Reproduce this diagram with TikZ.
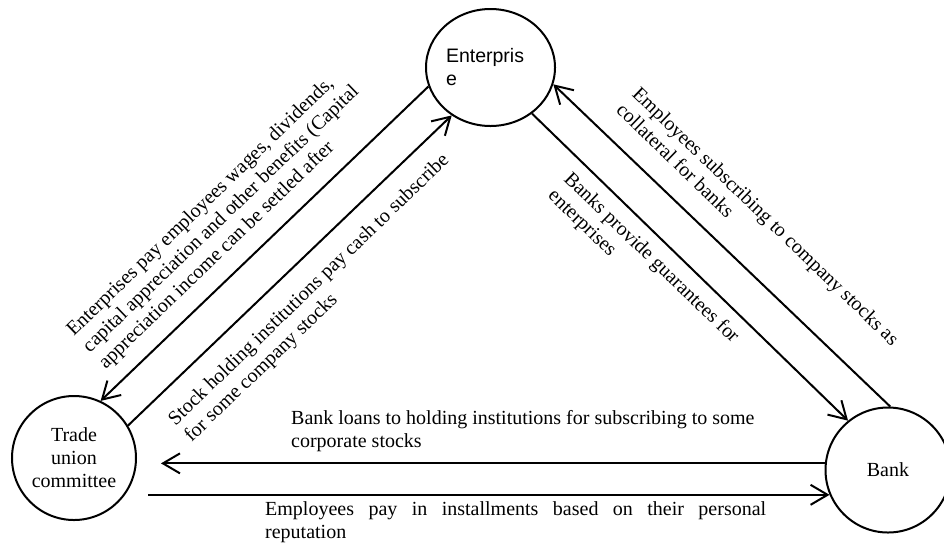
\documentclass[tikz,border=0pt]{standalone}
\usepackage{fontspec}
\setmainfont{Liberation Serif}
\newfontfamily\arialfont{Liberation Sans}
\usetikzlibrary{shapes.geometric, arrows.meta}
\tikzstyle{party} = [circle, draw=black, line width=2pt, minimum size=124pt, inner sep=0pt, text centered, font=\fontsize{20}{23}\selectfont]
\tikzstyle{note} = [inner sep=0pt, align=left, anchor=north west, font=\fontsize{20}{23}\selectfont]
\tikzstyle{arrow} = [line width=2pt, -{Straight Barb[length=17pt,width=20pt]}]

\begin{document}
\begin{tikzpicture}[x=1pt, y=-1pt]
\useasboundingbox (0,0) rectangle (944,542);
\fill[white] (0,0) rectangle (944,542);

\node (ent) [party, ellipse, minimum width=129pt, minimum height=117pt, text width=89pt, align=left, font=\arialfont\fontsize{19.5}{23}\selectfont] at (490.5,67.5) {Enterpris\\e};
\node (tu) [party, align=center] at (74,458) {Trade\\union\\committee};
\node (bank) [party, minimum size=125pt] at (888,470) {Bank};

\draw [arrow] (ent.197) -- (tu.65);
\draw [arrow] (tu.31) -- (ent.231);
\draw [arrow] (ent.312) -- (bank.129);
\draw [arrow] (bank.88) -- (ent.345);
\draw [arrow, shorten >=24pt] (bank.174) -- (bank.174 -| tu.east);
\draw [arrow, shorten <=11pt] (tu.east |- bank.203) -- (bank.203);

\node (wages) [note, rotate=44] at (64,326.6) {Enterprises pay employees wages, dividends,\\capital appreciation and other benefits (Capital\\appreciation income can be settled after};
\node (cash) [note, rotate=44] at (165.7,416.1) {Stock holding institutions pay cash to subscribe\\for some company stocks};
\node (collat) [note, rotate=-44] at (641,85) {Employees subscribing to company stocks as\\collateral for banks};
\node (guar) [note, rotate=-44] at (573,170) {Banks provide guarantees for\\enterprises};
\node (loans) [note] at (291,410) {Bank loans to holding institutions for subscribing to some\\corporate stocks};
\node (instal) [note] at (265,501) {\makebox[501pt][s]{Employees pay in installments based on their personal}\\reputation};

\end{tikzpicture}
\end{document}
